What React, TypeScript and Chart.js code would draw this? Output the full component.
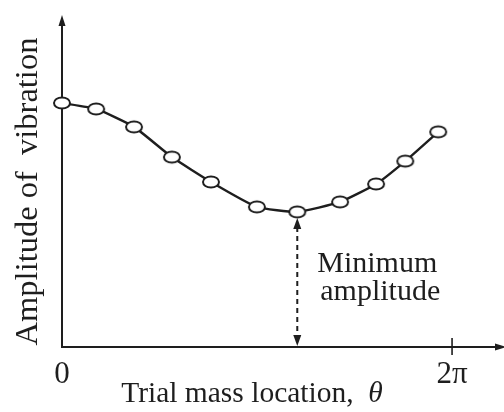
import React, { useEffect, useRef } from "react";
import { Chart, registerables } from "chart.js";

Chart.register(...registerables);

// Trial mass location θ (radians) and vibration amplitude (arbitrary units, 0–10)
const thetaValues = [0, 0.55, 1.16, 1.77, 2.4, 3.14, 3.79, 4.48, 5.06, 5.53, 6.06];
const amplitudeValues = [7.35, 7.17, 6.63, 5.72, 4.97, 4.22, 4.07, 4.37, 4.91, 5.6, 6.48];
const xTickValues = [0, 6.2832];
const xTickLabels = ["0", "2π"];
const xMax = 7.12;
const yMax = 10;
const xTitleMain = "Trial mass location,  ";
const xTitleSymbol = "θ";
const yTitle = "Amplitude of  vibration";
const noteLines = ["Minimum", "amplitude"];

const FONT = "'Liberation Serif', 'Times New Roman', serif";
const INK = "#1e1e1e";

function makeEllipse(): HTMLCanvasElement {
  const c = document.createElement("canvas");
  c.width = 20;
  c.height = 16;
  const g = c.getContext("2d")!;
  g.beginPath();
  g.ellipse(10, 8, 8, 5.6, 0, 0, Math.PI * 2);
  g.fillStyle = "#ffffff";
  g.fill();
  g.lineWidth = 2;
  g.strokeStyle = INK;
  g.stroke();
  return c;
}

const axisPlugin = {
  id: "axisArrows",
  beforeDatasetsDraw(chart: any) {
    const { ctx, chartArea, scales } = chart;
    const xs = scales.x;
    const ys = scales.y;
    const x0 = xs.getPixelForValue(0);
    const y0 = ys.getPixelForValue(0);
    ctx.save();
    ctx.strokeStyle = INK;
    ctx.fillStyle = INK;
    ctx.lineWidth = 2;
    // y axis
    ctx.beginPath();
    ctx.moveTo(x0, y0 + 1);
    ctx.lineTo(x0, chartArea.top + 6);
    ctx.stroke();
    ctx.beginPath();
    ctx.moveTo(x0, chartArea.top);
    ctx.lineTo(x0 - 3.5, chartArea.top + 11);
    ctx.lineTo(x0 + 3.5, chartArea.top + 11);
    ctx.closePath();
    ctx.fill();
    // x axis
    ctx.beginPath();
    ctx.moveTo(x0 - 1, y0);
    ctx.lineTo(chartArea.right - 4, y0);
    ctx.stroke();
    ctx.beginPath();
    ctx.moveTo(chartArea.right + 2, y0);
    ctx.lineTo(chartArea.right - 9, y0 - 3.5);
    ctx.lineTo(chartArea.right - 9, y0 + 3.5);
    ctx.closePath();
    ctx.fill();
    // tick at 2π
    const xt = xs.getPixelForValue(xTickValues[1]);
    ctx.lineWidth = 1.6;
    ctx.beginPath();
    ctx.moveTo(xt, y0 - 9);
    ctx.lineTo(xt, y0 + 8);
    ctx.stroke();

    // axis titles
    ctx.textBaseline = "alphabetic";
    const normalFont = `29.5px ${FONT}`;
    const italicFont = `italic 29.5px ${FONT}`;
    ctx.font = normalFont;
    const w1 = ctx.measureText(xTitleMain).width;
    ctx.font = italicFont;
    const w2 = ctx.measureText(xTitleSymbol).width;
    const cx = 252;
    const startX = cx - (w1 + w2) / 2;
    ctx.textAlign = "left";
    ctx.font = normalFont;
    ctx.fillText(xTitleMain, startX, 402);
    ctx.font = italicFont;
    ctx.fillText(xTitleSymbol, startX + w1, 402);
    ctx.save();
    ctx.translate(37, 191.5);
    ctx.rotate(-Math.PI / 2);
    ctx.font = `32.5px ${FONT}`;
    ctx.textAlign = "center";
    ctx.fillText(yTitle, 0, 0);
    ctx.restore();
    ctx.restore();
  },
  afterDatasetsDraw(chart: any) {
    const { ctx, scales } = chart;
    const xs = scales.x;
    const ys = scales.y;
    let minIdx = 0;
    amplitudeValues.forEach((v, i) => {
      if (v < amplitudeValues[minIdx]) minIdx = i;
    });
    const ax = xs.getPixelForValue(thetaValues[minIdx]);
    const top = ys.getPixelForValue(amplitudeValues[minIdx]) + 6;
    const bottom = ys.getPixelForValue(0) - 1;
    ctx.save();
    ctx.strokeStyle = INK;
    ctx.fillStyle = INK;
    ctx.lineWidth = 2;
    ctx.setLineDash([5, 4]);
    ctx.beginPath();
    ctx.moveTo(ax, top + 9);
    ctx.lineTo(ax, bottom - 9);
    ctx.stroke();
    ctx.setLineDash([]);
    ctx.beginPath();
    ctx.moveTo(ax, top);
    ctx.lineTo(ax - 4, top + 11);
    ctx.lineTo(ax + 4, top + 11);
    ctx.closePath();
    ctx.fill();
    ctx.beginPath();
    ctx.moveTo(ax, bottom);
    ctx.lineTo(ax - 4, bottom - 11);
    ctx.lineTo(ax + 4, bottom - 11);
    ctx.closePath();
    ctx.fill();
    ctx.font = `30px ${FONT}`;
    ctx.textAlign = "center";
    ctx.textBaseline = "alphabetic";
    ctx.fillText(noteLines[0], ax + 80, top + 54);
    ctx.fillText(noteLines[1], ax + 83, top + 82);
    ctx.restore();
  },
};

export default function App() {
  const ref = useRef<HTMLCanvasElement | null>(null);
  useEffect(() => {
    document.body.style.margin = "0";
    const canvas = ref.current!;
    const ellipse = makeEllipse();
    const chart = new Chart(canvas, {
      type: "line",
      data: {
        datasets: [
          {
            data: thetaValues.map((t, i) => ({ x: t, y: amplitudeValues[i] })),
            borderColor: INK,
            borderWidth: 2.4,
            tension: 0.15,
            pointStyle: ellipse as any,
            pointRadius: 8,
            clip: false as any,
          },
        ],
      },
      options: {
        animation: false,
        responsive: true,
        maintainAspectRatio: false,
        layout: { autoPadding: false, padding: { top: 15, right: 0, left: 0, bottom: 0 } },
        plugins: { legend: { display: false }, tooltip: { enabled: false } },
        scales: {
          x: {
            type: "linear",
            min: 0,
            max: xMax,
            grid: { display: false, drawTicks: false },
            border: { display: false },
            afterBuildTicks: (scale: any) => {
              scale.ticks = xTickValues.map((v) => ({ value: v }));
            },
            afterFit: (scale: any) => {
              scale.height = 65;
              scale.paddingLeft = 0;
              scale.paddingRight = 0;
            },
            ticks: {
              autoSkip: false,
              maxRotation: 0,
              padding: 9,
              color: INK,
              font: { family: FONT, size: 31 },
              callback: (_v: any, i: number) => xTickLabels[i],
            },
            title: { display: false },
          },
          y: {
            type: "linear",
            min: 0,
            max: yMax,
            grid: { display: false, drawTicks: false },
            border: { display: false },
            ticks: { display: false },
            afterFit: (scale: any) => {
              scale.width = 62;
            },
            title: { display: false },
          },
        },
      },
      plugins: [axisPlugin],
    });
    return () => chart.destroy();
  }, []);
  return (
    <div style={{ position: "absolute", left: 0, top: 0, width: 504, height: 412 }}>
      <canvas ref={ref} />
    </div>
  );
}
